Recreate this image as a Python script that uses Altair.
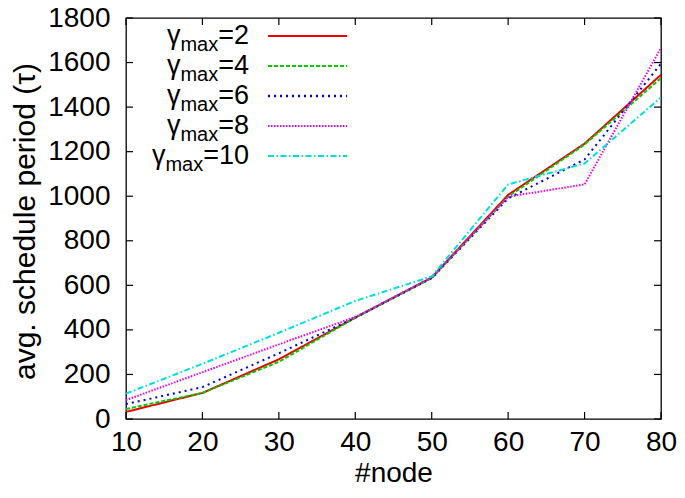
import altair as alt
import pandas as pd

nodes = [10, 20, 30, 40, 50, 60, 70, 80]
g2 = [32, 117, 268, 455, 635, 1006, 1236, 1545]
g4 = [45, 117, 257, 455, 632, 998, 1232, 1530]
g6 = [67, 143, 295, 455, 632, 990, 1165, 1595]
g8 = [85, 210, 335, 458, 635, 998, 1053, 1666]
g10 = [114, 248, 387, 530, 640, 1053, 1147, 1444]

series_names = ["2", "4", "6", "8", "10"]
series_vals = [g2, g4, g6, g8, g10]
colors = ["#ee0000", "#00cc00", "#0000dd", "#ee00ee", "#00dddd"]
dashes = [[1, 0], [4, 2], [2, 4], [1.5, 1.5], [6, 2.5, 1.5, 2.5]]
widths = [2, 2, 2.5, 2, 2]

x_ticks = [10, 20, 30, 40, 50, 60, 70, 80]
y_ticks = [0, 200, 400, 600, 800, 1000, 1200, 1400, 1600, 1800]

W, H = 535, 401
FONT = "Liberation Sans"

rows = []
for name, vals in zip(series_names, series_vals):
    for n, v in zip(nodes, vals):
        rows.append({"node": n, "period": v, "series": name})
df = pd.DataFrame(rows)

xscale = alt.Scale(domain=[10, 80], nice=False, zero=False)
yscale = alt.Scale(domain=[0, 1800], nice=False)

lines = alt.Chart(df).mark_line(strokeWidth=2, clip=True).encode(
    x=alt.X("node:Q", scale=xscale,
            axis=alt.Axis(values=x_ticks, title="#node", grid=False, domain=False,
                          ticks=False, labelFontSize=28, labelPadding=9,
                          labelFlush=False, labelOverlap=False, format="d",
                          labelFont=FONT, titleFont=FONT, titleFontSize=28,
                          titleFontWeight="normal", labelColor="black",
                          titleColor="black", titleBaseline="alphabetic",
                          titleY=62)),
    y=alt.Y("period:Q", scale=yscale,
            axis=alt.Axis(values=y_ticks, title="avg. schedule period (\u03c4)",
                          grid=False, domain=False, ticks=False, labelFontSize=28,
                          labelPadding=16, labelFlush=False, labelOverlap=False,
                          format="d", labelFont=FONT, titleFont=FONT,
                          titleFontSize=30, titleFontWeight="normal",
                          labelColor="black", titleColor="black",
                          titleBaseline="alphabetic", titleX=-92, titleY=203,
                          titleAngle=-90)),
    color=alt.Color("series:N", scale=alt.Scale(domain=series_names, range=colors),
                    legend=None),
    strokeDash=alt.StrokeDash("series:N",
                              scale=alt.Scale(domain=series_names, range=dashes),
                              legend=None),
    strokeWidth=alt.StrokeWidth("series:N",
                                scale=alt.Scale(domain=series_names, range=widths),
                                legend=None),
    order=alt.Order("node:Q"),
)

yt = pd.DataFrame({"v": y_ticks})
xt = pd.DataFrame({"v": x_ticks})
TL = 7
tick_layers = [
    alt.Chart(yt).mark_rule(color="black", strokeWidth=1.2).encode(
        y=alt.Y("v:Q", scale=yscale), x=alt.value(0), x2=alt.value(TL)),
    alt.Chart(yt).mark_rule(color="black", strokeWidth=1.2).encode(
        y=alt.Y("v:Q", scale=yscale), x=alt.value(W - TL), x2=alt.value(W)),
    alt.Chart(xt).mark_rule(color="black", strokeWidth=1.2).encode(
        x=alt.X("v:Q", scale=xscale), y=alt.value(H), y2=alt.value(H - TL)),
    alt.Chart(xt).mark_rule(color="black", strokeWidth=1.2).encode(
        x=alt.X("v:Q", scale=xscale), y=alt.value(0), y2=alt.value(TL)),
]

# custom legend (gnuplot-style key, text right-aligned, sample to the right)
legend_layers = []
one = pd.DataFrame({"a": [0]})
MAIN, SUB = 27, 20
text_right = 123
for i, (name, col, dash, w) in enumerate(zip(series_names, colors, dashes, widths)):
    ly = 18 + 30 * i
    eq = "=" + name
    eq_w = (0.584 + 0.556 * len(name)) * MAIN
    max_w = (0.833 + 0.556 + 0.5) * SUB
    legend_layers.append(
        alt.Chart(one).mark_rule(color=col, strokeDash=dash, strokeWidth=w).encode(
            x=alt.value(142), x2=alt.value(221), y=alt.value(ly)))
    legend_layers.append(
        alt.Chart(one).mark_text(text=eq, align="right", baseline="alphabetic",
                                 font=FONT, fontSize=MAIN, color="black").encode(
            x=alt.value(text_right), y=alt.value(ly + 8)))
    legend_layers.append(
        alt.Chart(one).mark_text(text="max", align="right", baseline="alphabetic",
                                 font=FONT, fontSize=SUB, color="black").encode(
            x=alt.value(text_right - eq_w), y=alt.value(ly + 15)))
    legend_layers.append(
        alt.Chart(one).mark_text(text="\u03b3", align="right", baseline="alphabetic",
                                 font=FONT, fontSize=MAIN, color="black").encode(
            x=alt.value(text_right - eq_w - max_w), y=alt.value(ly + 8)))

chart = alt.layer(lines, *tick_layers, *legend_layers).properties(
    width=W, height=H,
    autosize=alt.AutoSizeParams(type="none"),
    padding={"left": 118, "top": 10, "right": 16, "bottom": 70},
    background="white",
).configure_view(stroke="black", strokeWidth=1.3)

chart.save("out.html", embed_options={"renderer": "svg", "actions": False})
